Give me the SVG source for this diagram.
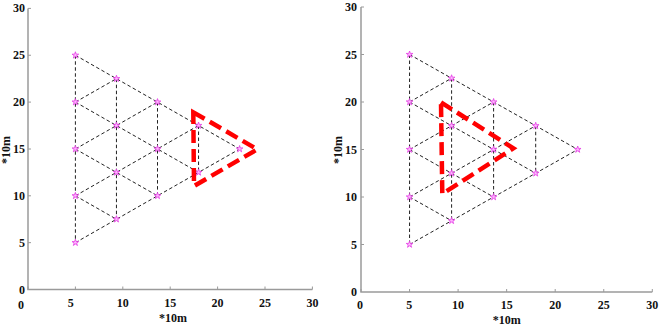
<svg xmlns="http://www.w3.org/2000/svg" width="661" height="327" viewBox="0 0 661 327">
<style>
.ax{stroke:#9a9a9a;stroke-width:1.5;fill:none}
.tk{stroke:#9a9a9a;stroke-width:1;fill:none}
.ed{stroke:#222;stroke-width:1;stroke-dasharray:3.5 2.5;fill:none}
.rd{stroke:#ff0000;stroke-width:4.5;stroke-dasharray:13 6;fill:none;stroke-linejoin:miter}
text{font-family:"Liberation Serif","Times New Roman",serif;font-size:12px;font-weight:bold;fill:#111}
.xl{text-anchor:middle}
.yl{text-anchor:end}
</style>
<defs>
<polygon id="star" points="0,-3.5 0.79,-1.08 3.33,-1.08 1.27,0.41 2.06,2.83 0,1.34 -2.06,2.83 -1.27,0.41 -3.33,-1.08 -0.79,-1.08" fill="#ffb6ff" stroke="#e53be5" stroke-width="0.8"/>
</defs>
<rect width="661" height="327" fill="#fff"/>

<g id="left-axes">
<path class="ax" d="M28,8.4 V289.5 H312.4"/>
<path class="tk" d="M28,289.5v-3M75.4,289.5v-3M122.8,289.5v-3M170.2,289.5v-3M217.6,289.5v-3M265,289.5v-3M312.4,289.5v-3M28,242.65h3M28,195.8h3M28,149h3M28,102.1h3M28,55.25h3M28,8.4h3"/>
<text class="xl" x="21" y="308.8">0</text>
<text class="xl" x="70.7" y="307">5</text>
<text class="xl" x="122.8" y="307">10</text>
<text class="xl" x="170.2" y="307">15</text>
<text class="xl" x="217.6" y="307">20</text>
<text class="xl" x="265" y="307">25</text>
<text class="xl" x="312.4" y="307">30</text>
<text class="yl" x="25" y="294.3">0</text>
<text class="yl" x="25" y="246.5">5</text>
<text class="yl" x="25" y="199.8">10</text>
<text class="yl" x="25" y="153">15</text>
<text class="yl" x="25" y="106.1">20</text>
<text class="yl" x="25" y="59.2">25</text>
<text class="yl" x="25" y="12.4">30</text>
<text class="xl" x="173" y="322">*10m</text>
<text class="xl" transform="translate(10,150) rotate(-90)">*10m</text>
</g>

<g id="right-axes">
<path class="ax" d="M361,7 V292 H652.3"/>
<path class="tk" d="M361,292v-3M409.55,292v-3M458.1,292v-3M506.65,292v-3M555.2,292v-3M603.75,292v-3M652.3,292v-3M361,244.5h3M361,197h3M361,149.5h3M361,102h3M361,54.5h3M361,7h3"/>
<text class="xl" x="360" y="309">0</text>
<text class="xl" x="409.3" y="309">5</text>
<text class="xl" x="458.1" y="309">10</text>
<text class="xl" x="506.65" y="309">15</text>
<text class="xl" x="555.2" y="309">20</text>
<text class="xl" x="603.75" y="309">25</text>
<text class="xl" x="652.3" y="309">30</text>
<text class="yl" x="357" y="295.5">0</text>
<text class="yl" x="357" y="248.5">5</text>
<text class="yl" x="357" y="201">10</text>
<text class="yl" x="357" y="153.5">15</text>
<text class="yl" x="357" y="106">20</text>
<text class="yl" x="357" y="58.5">25</text>
<text class="yl" x="357" y="11">30</text>
<text class="xl" x="506.7" y="324">*10m</text>
<text class="xl" transform="translate(342,150) rotate(-90)">*10m</text>
</g>

<g id="connectors">
<path class="ed" d="M75.4,55.25V242.65M116.45,78.7V219.2M157.5,102.1V195.8M198.55,125.5V172.4
M75.4,55.25L239.6,149M75.4,102.1L198.55,172.4M75.4,149L157.5,195.8M75.4,195.8L116.45,219.2
M75.4,242.65L239.6,149M75.4,195.8L198.55,125.5M75.4,149L157.5,102.1M75.4,102.1L116.45,78.7"/>
<path class="ed" d="M409.55,54.5V244.5M451.6,78.25V220.75M493.6,102V197M535.7,125.75V173.25
M409.55,54.5L577.7,149.5M409.55,102L535.7,173.25M409.55,149.5L493.6,197M409.55,197L451.6,220.75
M409.55,244.5L577.7,149.5M409.55,197L535.7,125.75M409.55,149.5L493.6,102M409.55,102L451.6,78.25"/>
</g>

<g id="left-nodes">
<use href="#star" x="75.4" y="55.25"/><use href="#star" x="116.45" y="78.7"/><use href="#star" x="157.5" y="102.1"/><use href="#star" x="198.55" y="125.5"/><use href="#star" x="239.6" y="149"/>
<use href="#star" x="75.4" y="102.1"/><use href="#star" x="116.45" y="125.5"/><use href="#star" x="157.5" y="149"/><use href="#star" x="198.55" y="172.4"/>
<use href="#star" x="75.4" y="149"/><use href="#star" x="116.45" y="172.4"/><use href="#star" x="157.5" y="195.8"/>
<use href="#star" x="75.4" y="195.8"/><use href="#star" x="116.45" y="219.2"/>
<use href="#star" x="75.4" y="242.65"/>
</g>
<g id="right-nodes">
<use href="#star" x="409.55" y="54.5"/><use href="#star" x="451.6" y="78.25"/><use href="#star" x="493.6" y="102"/><use href="#star" x="535.7" y="125.75"/><use href="#star" x="577.7" y="149.5"/>
<use href="#star" x="409.55" y="102"/><use href="#star" x="451.6" y="125.75"/><use href="#star" x="493.6" y="149.5"/><use href="#star" x="535.7" y="173.25"/>
<use href="#star" x="409.55" y="149.5"/><use href="#star" x="451.6" y="173.25"/><use href="#star" x="493.6" y="197"/>
<use href="#star" x="409.55" y="197"/><use href="#star" x="451.6" y="220.75"/>
<use href="#star" x="409.55" y="244.5"/>
</g>

<g id="left-region">
<path class="rd" d="M193.3,112.3L257.3,149.3L194,186Z"/>
</g>
<g id="right-region">
<path class="rd" d="M441,102.3L513.3,148.3L442.3,194Z"/>
</g>
</svg>
